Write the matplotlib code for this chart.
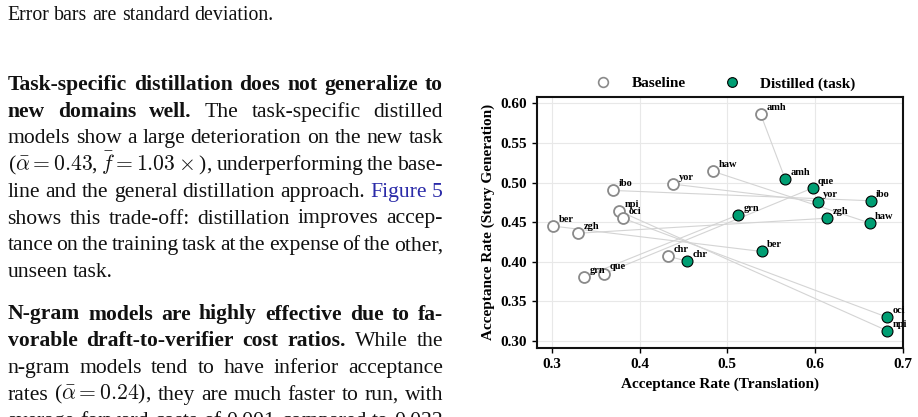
import numpy as np
import matplotlib
matplotlib.use("Agg")
import matplotlib.pyplot as plt
from matplotlib.lines import Line2D

plt.rcParams['font.family'] = ['Liberation Serif', 'DejaVu Serif']
plt.rcParams['mathtext.fontset'] = 'cm'

# data
langs = ['amh', 'haw', 'yor', 'ibo', 'npi', 'oci', 'ber', 'zgh', 'grn', 'que', 'chr']
base_x = [0.538, 0.484, 0.438, 0.370, 0.377, 0.381, 0.302, 0.330, 0.337, 0.360, 0.432]
base_y = [0.586, 0.514, 0.498, 0.490, 0.464, 0.455, 0.445, 0.436, 0.381, 0.385, 0.407]
dist_x = [0.566, 0.662, 0.603, 0.663, 0.682, 0.682, 0.539, 0.614, 0.512, 0.597, 0.454]
dist_y = [0.504, 0.449, 0.476, 0.477, 0.313, 0.330, 0.413, 0.455, 0.459, 0.493, 0.401]
xticks = [0.3, 0.4, 0.5, 0.6, 0.7]
yticks = [0.30, 0.35, 0.40, 0.45, 0.50, 0.55, 0.60]

GREEN = '#009E73'
W, H = 918, 417
fig = plt.figure(figsize=(W / 100, H / 100), dpi=100)
renderer = fig.canvas.get_renderer()

# ---- body text on the left ----
BODY = 15.6
CAPTION = 14.3
LEFT, RIGHT = 7.5, 443.0


def put_line(y, segs, justify=True, size=BODY):
    # segs: list of (text, weight, color)
    words = []
    for txt, wt, col in segs:
        for w in txt.split(' '):
            if w:
                words.append((w, wt, col))
    arts = []
    for w, wt, col in words:
        t = fig.text(0, 1 - y / H, w, fontsize=size, fontweight=wt, color=col,
                     va='baseline', ha='left')
        arts.append(t)
    widths = [a.get_window_extent(renderer).width for a in arts]
    if justify and len(arts) > 1:
        gap = (RIGHT - LEFT - sum(widths)) / (len(arts) - 1)
    else:
        gap = 0.25 * size * 100 / 72
    x = LEFT
    for a, wd in zip(arts, widths):
        a.set_x(x / W)
        x += wd + gap


K = '#111111'
BL = '#2a2aa8'
put_line(20.5, [("Error bars are standard deviation.", 'normal', K)], False, CAPTION)
y0, dy = 90.0, 26.7
para1 = [
    [("Task-specific distillation does not generalize to", 'bold', K)],
    [("new domains well.", 'bold', K), ("The task-specific distilled", 'normal', K)],
    [("models show a large deterioration on the new task", 'normal', K)],
    [(r"($\bar{\alpha}=0.43$, $\bar{f}=1.03\times$), underperforming the base-", 'normal', K)],
    [("line and the general distillation approach.", 'normal', K), ("Figure 5", 'normal', BL)],
    [("shows this trade-off: distillation improves accep-", 'normal', K)],
    [("tance on the training task at the expense of the other,", 'normal', K)],
    [("unseen task.", 'normal', K)],
]
for i, segs in enumerate(para1):
    put_line(y0 + i * dy, segs, i < len(para1) - 1)

y1 = 319.5
para2 = [
    [("N-gram models are highly effective due to fa-", 'bold', K)],
    [("vorable draft-to-verifier cost ratios.", 'bold', K), ("While the", 'normal', K)],
    [("n-gram models tend to have inferior acceptance", 'normal', K)],
    [(r"rates ($\bar{\alpha}=0.24$), they are much faster to run, with", 'normal', K)],
    [("average forward costs of 0.001 compared to 0.022", 'normal', K)],
]
for i, segs in enumerate(para2):
    put_line(y1 + i * dy, segs, True)

# ---- scatter chart ----
ax = fig.add_axes([536.5 / W, 1 - 348 / H, (903 - 536.5) / W, (348 - 96.7) / H])

for bx, by, tx, ty in zip(base_x, base_y, dist_x, dist_y):
    ax.plot([bx, tx], [by, ty], color='#d4d4d4', lw=0.8, zorder=1)

ax.scatter(base_x, base_y, s=62, facecolor='white', edgecolor='#8a8a8a', linewidth=1.3, zorder=3)
ax.scatter(dist_x, dist_y, s=62, facecolor=GREEN, edgecolor='black', linewidth=0.8, zorder=3)

for lab, x, y in zip(langs, base_x, base_y):
    ax.annotate(lab, (x, y), xytext=(4, 3), textcoords='offset points',
                fontsize=7.5, fontweight='bold', va='baseline', ha='left', zorder=4)
for lab, x, y in zip(langs, dist_x, dist_y):
    ax.annotate(lab, (x, y), xytext=(4, 3), textcoords='offset points',
                fontsize=7.5, fontweight='bold', va='baseline', ha='left', zorder=4)

ax.set_xlim(0.2827, 0.70)
ax.set_ylim(0.2912, 0.6083)
ax.set_xticks(xticks)
ax.set_xticklabels([f'{v:.1f}' for v in xticks])
ax.set_yticks(yticks)
ax.set_yticklabels([f'{v:.2f}' for v in yticks])
ax.grid(True, color='#e8e8e8', lw=0.8, zorder=0)
ax.set_axisbelow(True)
for sp in ax.spines.values():
    sp.set_linewidth(1.5)
    sp.set_color('#111111')
ax.tick_params(labelsize=11, width=1.0, length=3.5)
for lb in ax.get_xticklabels() + ax.get_yticklabels():
    lb.set_fontweight('bold')
ax.set_xlabel('Acceptance Rate (Translation)', fontsize=11, fontweight='bold', labelpad=5)
ax.set_ylabel('Acceptance Rate (Story Generation)', fontsize=11, fontweight='bold', labelpad=4)

handles = [
    Line2D([], [], ls='none', marker='o', markersize=7, markerfacecolor='white',
           markeredgecolor='#8a8a8a', markeredgewidth=1.2),
    Line2D([], [], ls='none', marker='o', markersize=7, markerfacecolor=GREEN,
           markeredgecolor='black', markeredgewidth=0.8),
]
leg = ax.legend(handles, ['Baseline', 'Distilled (task)'], loc='lower center',
                bbox_to_anchor=(0.505, 1.0), ncol=2, frameon=False,
                prop={'weight': 'bold', 'size': 11}, columnspacing=2.0,
                handletextpad=0.85, borderaxespad=0.0)

fig.savefig('out.png', dpi=100)
